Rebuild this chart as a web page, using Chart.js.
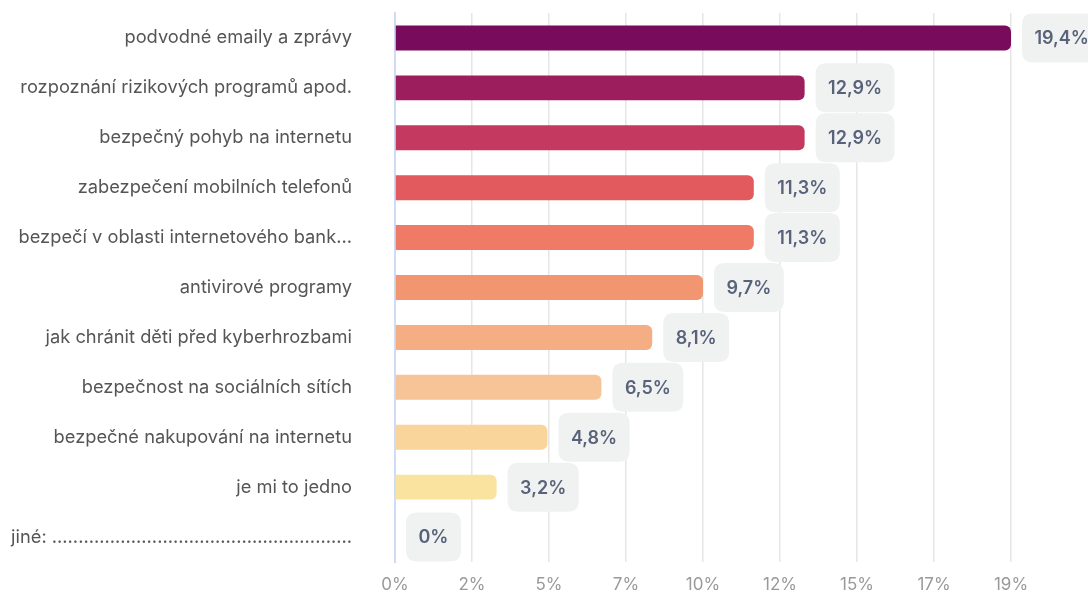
<!DOCTYPE html>
<html>
<head>
<meta charset="utf-8">
<script src="https://cdn.jsdelivr.net/npm/chart.js@4/dist/chart.umd.min.js"></script>
<style>
  html, body { margin: 0; padding: 0; background: #fff; overflow: hidden; }
  canvas { display: block; }
</style>
</head>
<body>
<canvas id="chart" width="1088" height="592"></canvas>
<script>
(function() {
  'use strict';
  // カテゴリ
  const categories = [
    'podvodné emaily a zprávy',
    'rozpoznání rizikových programů apod.',
    'bezpečný pohyb na internetu',
    'zabezpečení mobilních telefonů',
    'bezpečí v oblasti internetového bank...',
    'antivirové programy',
    'jak chránit děti před kyberhrozbami',
    'bezpečnost na sociálních sítích',
    'bezpečné nakupování na internetu',
    'je mi to jedno',
    'jiné: .........................................................'
  ];
  // 値 (%)
  const values = [19.4, 12.9, 12.9, 11.3, 11.3, 9.7, 8.1, 6.5, 4.8, 3.2, 0];
  // バーの色
  const barColors = [
    '#780b5b', '#9d1e5d', '#c3395f', '#e35a5e', '#ef7a66',
    '#f29571', '#f5ae84', '#f7c497', '#f9d49b', '#fae29f', '#fbe9b0'
  ];
  // 横軸の目盛り
  const tickLabels = ['0%', '2%', '5%', '7%', '10%', '12%', '15%', '17%', '19%'];
  const axisMax = 19.4;

  const fontFamily = 'Inter, "Noto Sans", sans-serif';

  function formatValue(v) {
    return String(v).replace('.', ',') + '%';
  }

  function roundRect(ctx, x, y, w, h, r) {
    ctx.beginPath();
    ctx.moveTo(x + r, y);
    ctx.lineTo(x + w - r, y);
    ctx.quadraticCurveTo(x + w, y, x + w, y + r);
    ctx.lineTo(x + w, y + h - r);
    ctx.quadraticCurveTo(x + w, y + h, x + w - r, y + h);
    ctx.lineTo(x + r, y + h);
    ctx.quadraticCurveTo(x, y + h, x, y + h - r);
    ctx.lineTo(x, y + r);
    ctx.quadraticCurveTo(x, y, x + r, y);
    ctx.closePath();
  }

  // 値ラベル（灰色の角丸ボックス）
  const valueBoxes = {
    id: 'valueBoxes',
    afterDatasetsDraw(chart) {
      const ctx = chart.ctx;
      const meta = chart.getDatasetMeta(0);
      ctx.save();
      ctx.font = '600 18px ' + fontFamily;
      ctx.textBaseline = 'middle';
      ctx.textAlign = 'left';
      meta.data.forEach(function(bar, i) {
        const text = formatValue(values[i]);
        const tw = ctx.measureText(text).width;
        const w = tw + 25;
        const h = 49;
        const x = bar.x + 11;
        const y = bar.y - h / 2;
        ctx.fillStyle = '#f0f1f1';
        roundRect(ctx, x, y, w, h, 11);
        ctx.fill();
        ctx.fillStyle = '#58637a';
        ctx.fillText(text, x + 12.5, bar.y + 1);
      });
      ctx.restore();
    }
  };

  new Chart(document.getElementById('chart').getContext('2d'), {
    type: 'bar',
    data: {
      labels: categories,
      datasets: [{
        data: values,
        backgroundColor: barColors,
        borderWidth: 0,
        borderRadius: 6,
        borderSkipped: 'start',
        barPercentage: 0.5,
        categoryPercentage: 1
      }]
    },
    options: {
      indexAxis: 'y',
      responsive: false,
      animation: false,
      layout: { padding: { top: 13, right: 77, bottom: 0, left: 0 } },
      plugins: {
        legend: { display: false },
        tooltip: { enabled: false }
      },
      scales: {
        x: {
          min: 0,
          max: axisMax,
          afterBuildTicks(scale) {
            scale.ticks = tickLabels.map(function(_, i) {
              return { value: i * axisMax / (tickLabels.length - 1) };
            });
          },
          afterFit(scale) { scale.height = 30; },
          ticks: {
            callback: function(v, i) { return tickLabels[i]; },
            color: '#9a9a9a',
            font: { family: fontFamily, size: 17 },
            padding: 13,
            maxRotation: 0,
            autoSkip: false
          },
          grid: {
            drawTicks: false,
            color: function(c) { return c.index === 0 ? 'rgba(0,0,0,0)' : '#e6e6e6'; },
            lineWidth: 1.5
          },
          border: { display: false }
        },
        y: {
          afterFit(scale) { scale.width = 395; },
          ticks: {
            color: '#555555',
            font: { family: fontFamily, size: 18.3 },
            padding: 0,
            autoSkip: false
          },
          // 目盛り線は透明にして、ラベルと軸の間隔に使う
          grid: {
            display: true,
            drawOnChartArea: false,
            drawTicks: true,
            tickLength: 43,
            tickColor: 'rgba(0,0,0,0)',
            color: 'rgba(0,0,0,0)'
          },
          border: { color: '#cfdcf3', width: 2 }
        }
      }
    },
    plugins: [valueBoxes]
  });
})();
</script>
</body>
</html>
